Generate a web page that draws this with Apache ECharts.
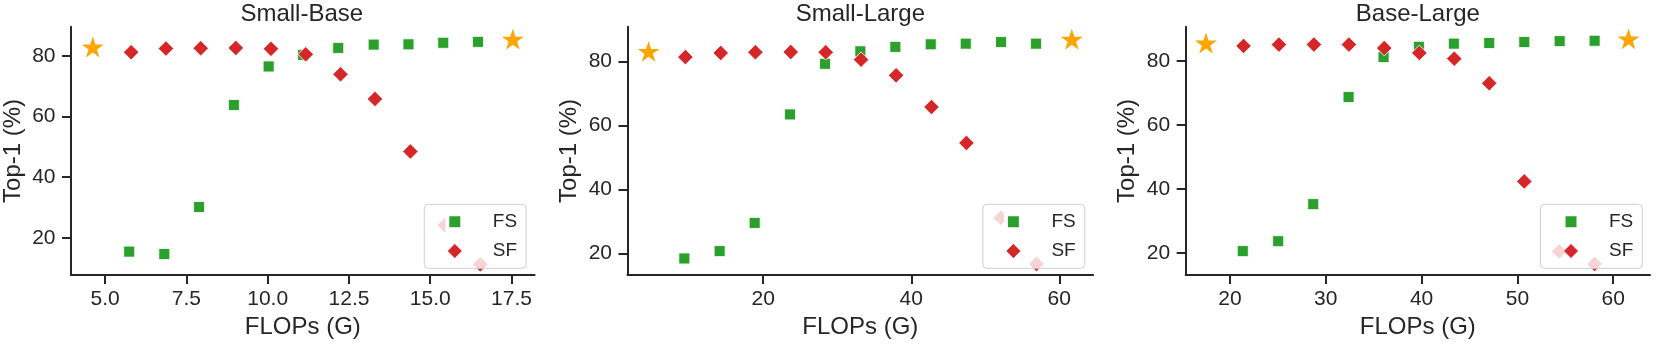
<!DOCTYPE html>
<html>
<head>
<meta charset="utf-8">
<script src="https://cdn.jsdelivr.net/npm/echarts@6/dist/echarts.min.js"></script>
<style>
html,body{margin:0;padding:0;background:#fff;}
#chart{width:1661px;height:344px;}
</style>
</head>
<body>
<div id="chart"></div>
<script>
// ---------- data ----------
const panelTitles = ['Small-Base', 'Small-Large', 'Base-Large'];
const seriesNames = ['FS', 'SF'];

// Small-Base
const sbFsX = [5.74, 6.82, 7.89, 8.96, 10.03, 11.09, 12.17, 13.26, 14.33, 15.40, 16.47];
const sbFsY = [15.5, 14.7, 30.2, 63.8, 76.5, 80.3, 82.6, 83.7, 83.8, 84.3, 84.6];
const sbSfX = [5.80, 6.87, 7.94, 9.02, 10.10, 11.17, 12.24, 13.30, 14.39, 15.45, 16.54];
const sbSfY = [81.2, 82.4, 82.5, 82.6, 82.3, 80.5, 73.9, 65.8, 48.5, 24.2, 11.3];
const sbRefX = [4.62, 17.54];
const sbRefY = [82.9, 85.5];

// Small-Large
const slFsX = [9.34, 14.11, 18.84, 23.62, 28.35, 33.12, 37.85, 42.63, 47.36, 52.13, 56.86];
const slFsY = [18.4, 20.7, 29.5, 63.4, 79.2, 83.1, 84.5, 85.3, 85.5, 86.0, 85.5];
const slSfX = [9.48, 14.26, 18.94, 23.72, 28.44, 33.22, 37.95, 42.73, 47.45, 52.09, 56.91];
const slSfY = [81.3, 82.6, 82.8, 82.9, 82.8, 80.5, 75.6, 65.7, 54.5, 31.1, 16.7];
const slRefX = [4.51, 61.69];
const slRefY = [83.1, 86.9];

// Base-Large
const blFsX = [21.34, 25.03, 28.69, 32.38, 36.03, 39.72, 43.37, 47.06, 50.72, 54.41, 58.06];
const blFsY = [20.5, 23.6, 35.2, 68.7, 81.2, 84.4, 85.4, 85.6, 85.9, 86.2, 86.3];
const blSfX = [21.42, 25.11, 28.76, 32.41, 36.10, 39.76, 43.41, 47.06, 50.72, 54.37, 58.06];
const blSfY = [84.7, 85.1, 85.1, 85.1, 84.0, 82.5, 80.7, 73.0, 42.3, 20.4, 16.5];
const blRefX = [17.5, 61.6];
const blRefY = [85.6, 86.9];

// ticks
const sbXTicks = [5, 7.5, 10, 12.5, 15, 17.5];
const slXTicks = [20, 40, 60];
const blXTicks = [20, 30, 40, 50, 60];
const yTicks = [20, 40, 60, 80];

// axis limits
const sbXLim = [3.95, 18.21], sbYLim = [7.76, 89.6];
const slXLim = [1.66, 64.58], slYLim = [13.2, 90.8];
const blXLim = [15.38, 63.84], blYLim = [13.0, 90.7];

// ---------- styling / layout ----------
const FONT = '"Liberation Sans", Arial, Helvetica, sans-serif';
const INK = '#262626';
const GREEN = '#2ca02c', RED = '#d62728', ORANGE = '#ffa500';
const gridLefts = [68.9, 627.5, 1185.7];
const gridWidths = [465.7, 465.7, 464.3];
const gridTop = 26.7, gridHeight = 251.6;
const legendLefts = [424.3, 982.9, 1540.5];

function zip(xs, ys) { return xs.map((x, i) => [x, ys[i]]); }

function starPath() {
  const pts = [];
  for (let i = 0; i < 10; i++) {
    const r = i % 2 === 0 ? 1 : 0.381966;
    const a = -Math.PI / 2 + i * Math.PI / 5;
    pts.push((r * Math.cos(a)).toFixed(4) + ',' + (r * Math.sin(a)).toFixed(4));
  }
  return 'path://M' + pts.join('L') + 'Z';
}
const STAR = starPath();

const panels = [
  { fs: zip(sbFsX, sbFsY), sf: zip(sbSfX, sbSfY), ref: zip(sbRefX, sbRefY), xt: sbXTicks, xl: sbXLim, yl: sbYLim, fmt: v => v.toFixed(1) },
  { fs: zip(slFsX, slFsY), sf: zip(slSfX, slSfY), ref: zip(slRefX, slRefY), xt: slXTicks, xl: slXLim, yl: slYLim, fmt: v => String(v) },
  { fs: zip(blFsX, blFsY), sf: zip(blSfX, blSfY), ref: zip(blRefX, blRefY), xt: blXTicks, xl: blXLim, yl: blYLim, fmt: v => String(v) }
];

const option = {
  backgroundColor: '#ffffff',
  animation: false,
  textStyle: { fontFamily: FONT, color: INK },
  title: [], grid: [], xAxis: [], yAxis: [], series: [], legend: []
};

panels.forEach((p, i) => {
  option.title.push({
    text: panelTitles[i],
    left: gridLefts[i] + gridWidths[i] / 2,
    top: 2,
    padding: 0,
    textAlign: 'center',
    textStyle: { fontFamily: FONT, fontSize: 24, fontWeight: 'normal', color: INK, lineHeight: 24 }
  });
  option.grid.push({ left: gridLefts[i], top: gridTop, width: gridWidths[i], height: gridHeight, containLabel: false });
  option.xAxis.push({
    type: 'value', gridIndex: i, min: p.xl[0], max: p.xl[1],
    name: 'FLOPs (G)', nameLocation: 'middle', nameGap: 38,
    nameTextStyle: { fontFamily: FONT, fontSize: 24, color: INK },
    axisLine: { show: true, lineStyle: { color: INK, width: 2 } },
    axisTick: { show: true, length: 9, lineStyle: { color: INK, width: 2 }, customValues: p.xt },
    axisLabel: { show: true, margin: 14, fontFamily: FONT, fontSize: 21, color: INK, customValues: p.xt, formatter: p.fmt },
    splitLine: { show: false }
  });
  option.yAxis.push({
    type: 'value', gridIndex: i, min: p.yl[0], max: p.yl[1],
    name: 'Top-1 (%)', nameLocation: 'middle', nameGap: 46,
    nameTextStyle: { fontFamily: FONT, fontSize: 24, color: INK },
    axisLine: { show: true, lineStyle: { color: INK, width: 2 } },
    axisTick: { show: true, length: 9, lineStyle: { color: INK, width: 2 }, customValues: yTicks },
    axisLabel: { show: true, margin: 15.5, fontFamily: FONT, fontSize: 21, color: INK, customValues: yTicks },
    splitLine: { show: false }
  });
  option.series.push({
    name: 'ref', type: 'scatter', xAxisIndex: i, yAxisIndex: i, z: 2,
    symbol: STAR, symbolSize: 22, symbolKeepAspect: true,
    itemStyle: { color: ORANGE, opacity: 1 },
    data: p.ref
  });
  option.series.push({
    name: 'FS', type: 'scatter', xAxisIndex: i, yAxisIndex: i, z: 2,
    symbol: 'rect', symbolSize: 11,
    itemStyle: { color: GREEN, borderColor: '#ffffff', borderWidth: 0.8, opacity: 1 },
    data: p.fs
  });
  option.series.push({
    name: 'SF', type: 'scatter', xAxisIndex: i, yAxisIndex: i, z: 3,
    symbol: 'diamond', symbolSize: 15.5,
    itemStyle: { color: RED, borderColor: '#ffffff', borderWidth: 0.8, opacity: 1 },
    data: p.sf
  });
  option.legend.push({
    orient: 'vertical',
    left: legendLefts[i], top: 204.3,
    padding: [7.4, 9, 7.3, 21],
    itemGap: 9.3, itemWidth: 15, itemHeight: 15,
    backgroundColor: 'rgba(255,255,255,0.8)',
    borderColor: '#d0d0d0', borderWidth: 1, borderRadius: 4,
    z: 10,
    selectedMode: false,
    textStyle: { fontFamily: FONT, fontSize: 19, color: INK, lineHeight: 20, padding: [0, 0, 0, 25.5] },
    data: [
      { name: 'FS', icon: 'rect', itemStyle: { color: GREEN, borderColor: '#ffffff', borderWidth: 4 } },
      { name: 'SF', icon: 'diamond', itemStyle: { color: RED, borderColor: '#ffffff', borderWidth: 0.8 } }
    ]
  });
});

const chart = echarts.init(document.getElementById('chart'), null, { renderer: 'canvas' });
chart.setOption(option);
</script>
</body>
</html>
